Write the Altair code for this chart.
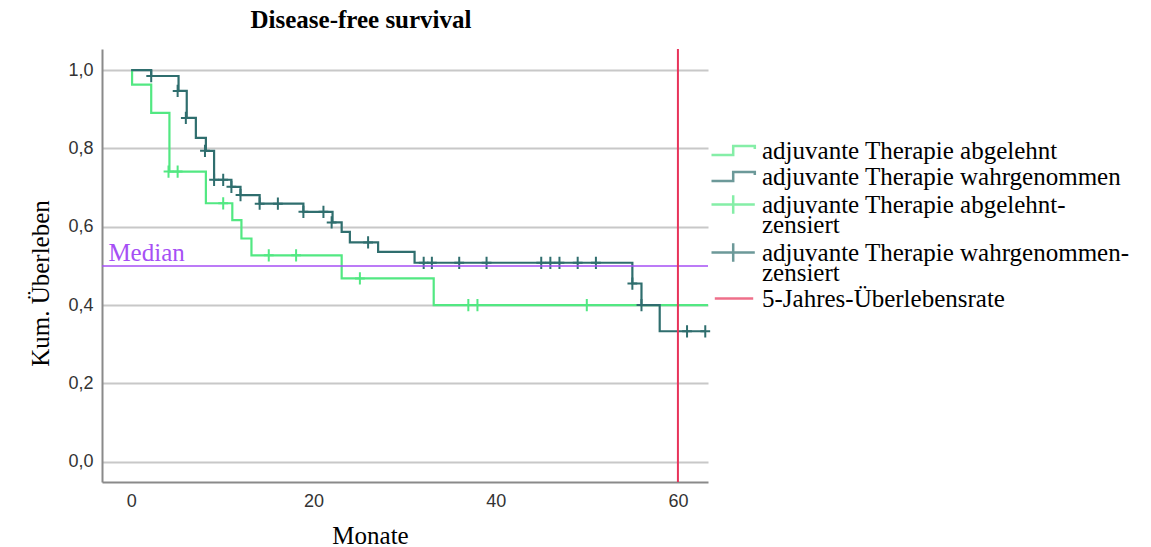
import altair as alt
import pandas as pd

# ---- legend entries ----
L1 = "adjuvante Therapie abgelehnt"
L2 = "adjuvante Therapie wahrgenommen"
L3 = "adjuvante Therapie abgelehnt-zensiert"
L4 = "adjuvante Therapie wahrgenommen-zensiert"
L5 = "5-Jahres-Überlebensrate"
legend_labels = [L1, L2, L3, L4, L5]
legend_colors = ["#52e882", "#2f6e6e", "#52e882", "#2f6e6e", "#e8335a"]

# ---- Kaplan-Meier: adjuvante Therapie abgelehnt ----
abg_months = [0, 0.1, 2.2, 4.2, 8.2, 11.1, 12.1, 13.2, 23.1, 33.2, 63.3]
abg_surv = [1.0, 0.963, 0.891, 0.741, 0.66, 0.617, 0.570, 0.527, 0.468, 0.40, 0.40]
abg_cens_months = [4.1, 5.1, 10.1, 15.1, 18.1, 25.1, 37.0, 38.0, 50.0]
abg_cens_surv = [0.741, 0.741, 0.66, 0.527, 0.527, 0.468, 0.40, 0.40, 0.40]

# ---- Kaplan-Meier: adjuvante Therapie wahrgenommen ----
wahr_months = [0, 2.2, 5.2, 6.1, 7.1, 8.2, 9.1, 11.0, 12.0, 14.1, 18.9, 22.1,
               23.1, 24.0, 27.1, 31.1, 55.0, 56.0, 58.0, 63.0]
wahr_surv = [1.0, 0.985, 0.947, 0.878, 0.827, 0.794, 0.72, 0.702, 0.681, 0.659,
             0.638, 0.611, 0.587, 0.56, 0.536, 0.508, 0.455, 0.40, 0.333, 0.333]
wahr_cens_months = [2.2, 5.1, 6.0, 8.1, 9.1, 10.1, 11.0, 12.0, 14.1, 16.1, 18.9,
                    21.1, 22.0, 26.0, 32.1, 33.0, 36.0, 39.0, 45.0, 46.0, 47.0,
                    49.0, 51.0, 55.0, 56.0, 61.0, 63.0]
wahr_cens_surv = [0.985, 0.947, 0.878, 0.794, 0.72, 0.72, 0.702, 0.681, 0.659,
                  0.659, 0.638, 0.638, 0.611, 0.56, 0.508, 0.508, 0.508, 0.508,
                  0.508, 0.508, 0.508, 0.508, 0.508, 0.455, 0.40, 0.333, 0.333]

five_year_month = [60]
median_value = [0.5]
median_label = ["Median"]
median_label_month = [-2.5]

x_ticks = [0, 20, 40, 60]
y_ticks = [0.0, 0.2, 0.4, 0.6, 0.8, 1.0]

# legend symbol shapes (custom SVG paths)
step_path = "M-1,0.45H1.17V-0.45H3.33V-0.15"
cross_path = "M-1,0H3.33M1.17,-0.93V0.93"
red_path = "M-0.67,0H3.17"
legend_shapes = [step_path, step_path, cross_path, cross_path, red_path]
censor_path = "M0,-1V1M-0.8,0H0.8"

# ---- data tables ----
lines_df = pd.concat([
    pd.DataFrame({"month": abg_months, "surv": abg_surv, "legend": L1}),
    pd.DataFrame({"month": wahr_months, "surv": wahr_surv, "legend": L2}),
], ignore_index=True)
cens_df = pd.concat([
    pd.DataFrame({"month": abg_cens_months, "surv": abg_cens_surv, "legend": L3}),
    pd.DataFrame({"month": wahr_cens_months, "surv": wahr_cens_surv, "legend": L4}),
], ignore_index=True)
red_df = pd.DataFrame({"month": five_year_month, "legend": L5})
median_df = pd.DataFrame({"surv": median_value})
median_text_df = pd.DataFrame({"month": median_label_month, "surv": median_value,
                               "label": median_label})
legend_df = pd.DataFrame({"legend": legend_labels})

SERIF = "Liberation Serif"
SANS = "Liberation Sans"
PURPLE = "#a64ff5"

color_scale = alt.Scale(domain=legend_labels, range=legend_colors)

xenc = alt.X(
    "month:Q",
    scale=alt.Scale(domain=[-3.2, 63.3], nice=False, zero=False),
    axis=alt.Axis(
        values=x_ticks, format="d", ticks=False, grid=False,
        domainColor="#8a8a8a", domainWidth=2,
        labelFont=SANS, labelFontSize=18, labelColor="#333333", labelPadding=10,
        title="Monate", titleFont=SERIF, titleFontSize=25, titleFontWeight="normal",
        titleColor="black", titleX=268, titleY=53, titleBaseline="middle",
    ),
)
yenc = alt.Y(
    "surv:Q",
    scale=alt.Scale(domain=[-0.052, 1.054], nice=False, zero=False),
    axis=alt.Axis(
        values=y_ticks, labelExpr="replace(format(datum.value, '.1f'), '.', ',')",
        ticks=False, grid=True, gridColor="#c8c8c8", gridWidth=2,
        domainColor="#8a8a8a", domainWidth=2,
        labelFont=SANS, labelFontSize=18, labelColor="#333333", labelPadding=9,
        title="Kum. Überleben", titleFont=SERIF, titleFontSize=25,
        titleFontWeight="normal", titleColor="black",
        titleX=-62, titleY=234, titleBaseline="middle", titleAlign="center",
    ),
)

# legend-only layer (draws no marks, defines the combined legend)
legend_layer = alt.Chart(legend_df).mark_point(filled=False, strokeWidth=2.5).encode(
    color=alt.Color(
        "legend:N", scale=color_scale,
        legend=alt.Legend(
            title=None, orient="none", legendX=607, legendY=89,
            symbolSize=400, symbolStrokeWidth=2.5,
            labelFont=SERIF, labelFontSize=25, labelColor="black",
            labelLimit=700, labelOffset=28, padding=0, rowPadding=0,
            labelExpr="split(replace(datum.label, '-zensiert', '-|zensiert'), '|')",
        ),
    ),
    shape=alt.Shape("legend:N", scale=alt.Scale(domain=legend_labels, range=legend_shapes)),
).transform_filter("false")

lines = alt.Chart(lines_df).mark_line(interpolate="step-after", strokeWidth=2.2).encode(
    x=xenc, y=yenc,
    color=alt.Color("legend:N", scale=color_scale),
    detail="legend:N",
    order="month:Q",
)

censors = alt.Chart(cens_df).mark_point(
    shape=censor_path, size=150, filled=False, strokeWidth=2, opacity=1
).encode(
    x=xenc, y=yenc,
    color=alt.Color("legend:N", scale=color_scale),
)

median_rule = alt.Chart(median_df).mark_rule(color=PURPLE, strokeWidth=1.5).encode(y=yenc)

median_text = alt.Chart(median_text_df).mark_text(
    font=SERIF, fontSize=25, color=PURPLE, align="left", baseline="alphabetic", dy=-5
).encode(x=xenc, y=yenc, text="label:N")

red_rule = alt.Chart(red_df).mark_rule(strokeWidth=2).encode(
    x=xenc,
    color=alt.Color("legend:N", scale=color_scale),
)

chart = alt.layer(legend_layer, lines, censors, median_rule, median_text, red_rule).properties(
    width=606,
    height=433,
    autosize=alt.AutoSizeParams(type="none"),
    padding={"left": 102, "top": 49, "right": 443, "bottom": 65},
    title=alt.TitleParams(
        text="Disease-free survival", font=SERIF, fontSize=25, fontWeight="bold",
        color="black", anchor="middle", dx=-44, offset=15,
    ),
).configure(
    style={"guide-label": {"lineHeight": 20}}
).configure_view(stroke=None)

chart.save("out.html", embed_options={"renderer": "svg", "actions": False})
